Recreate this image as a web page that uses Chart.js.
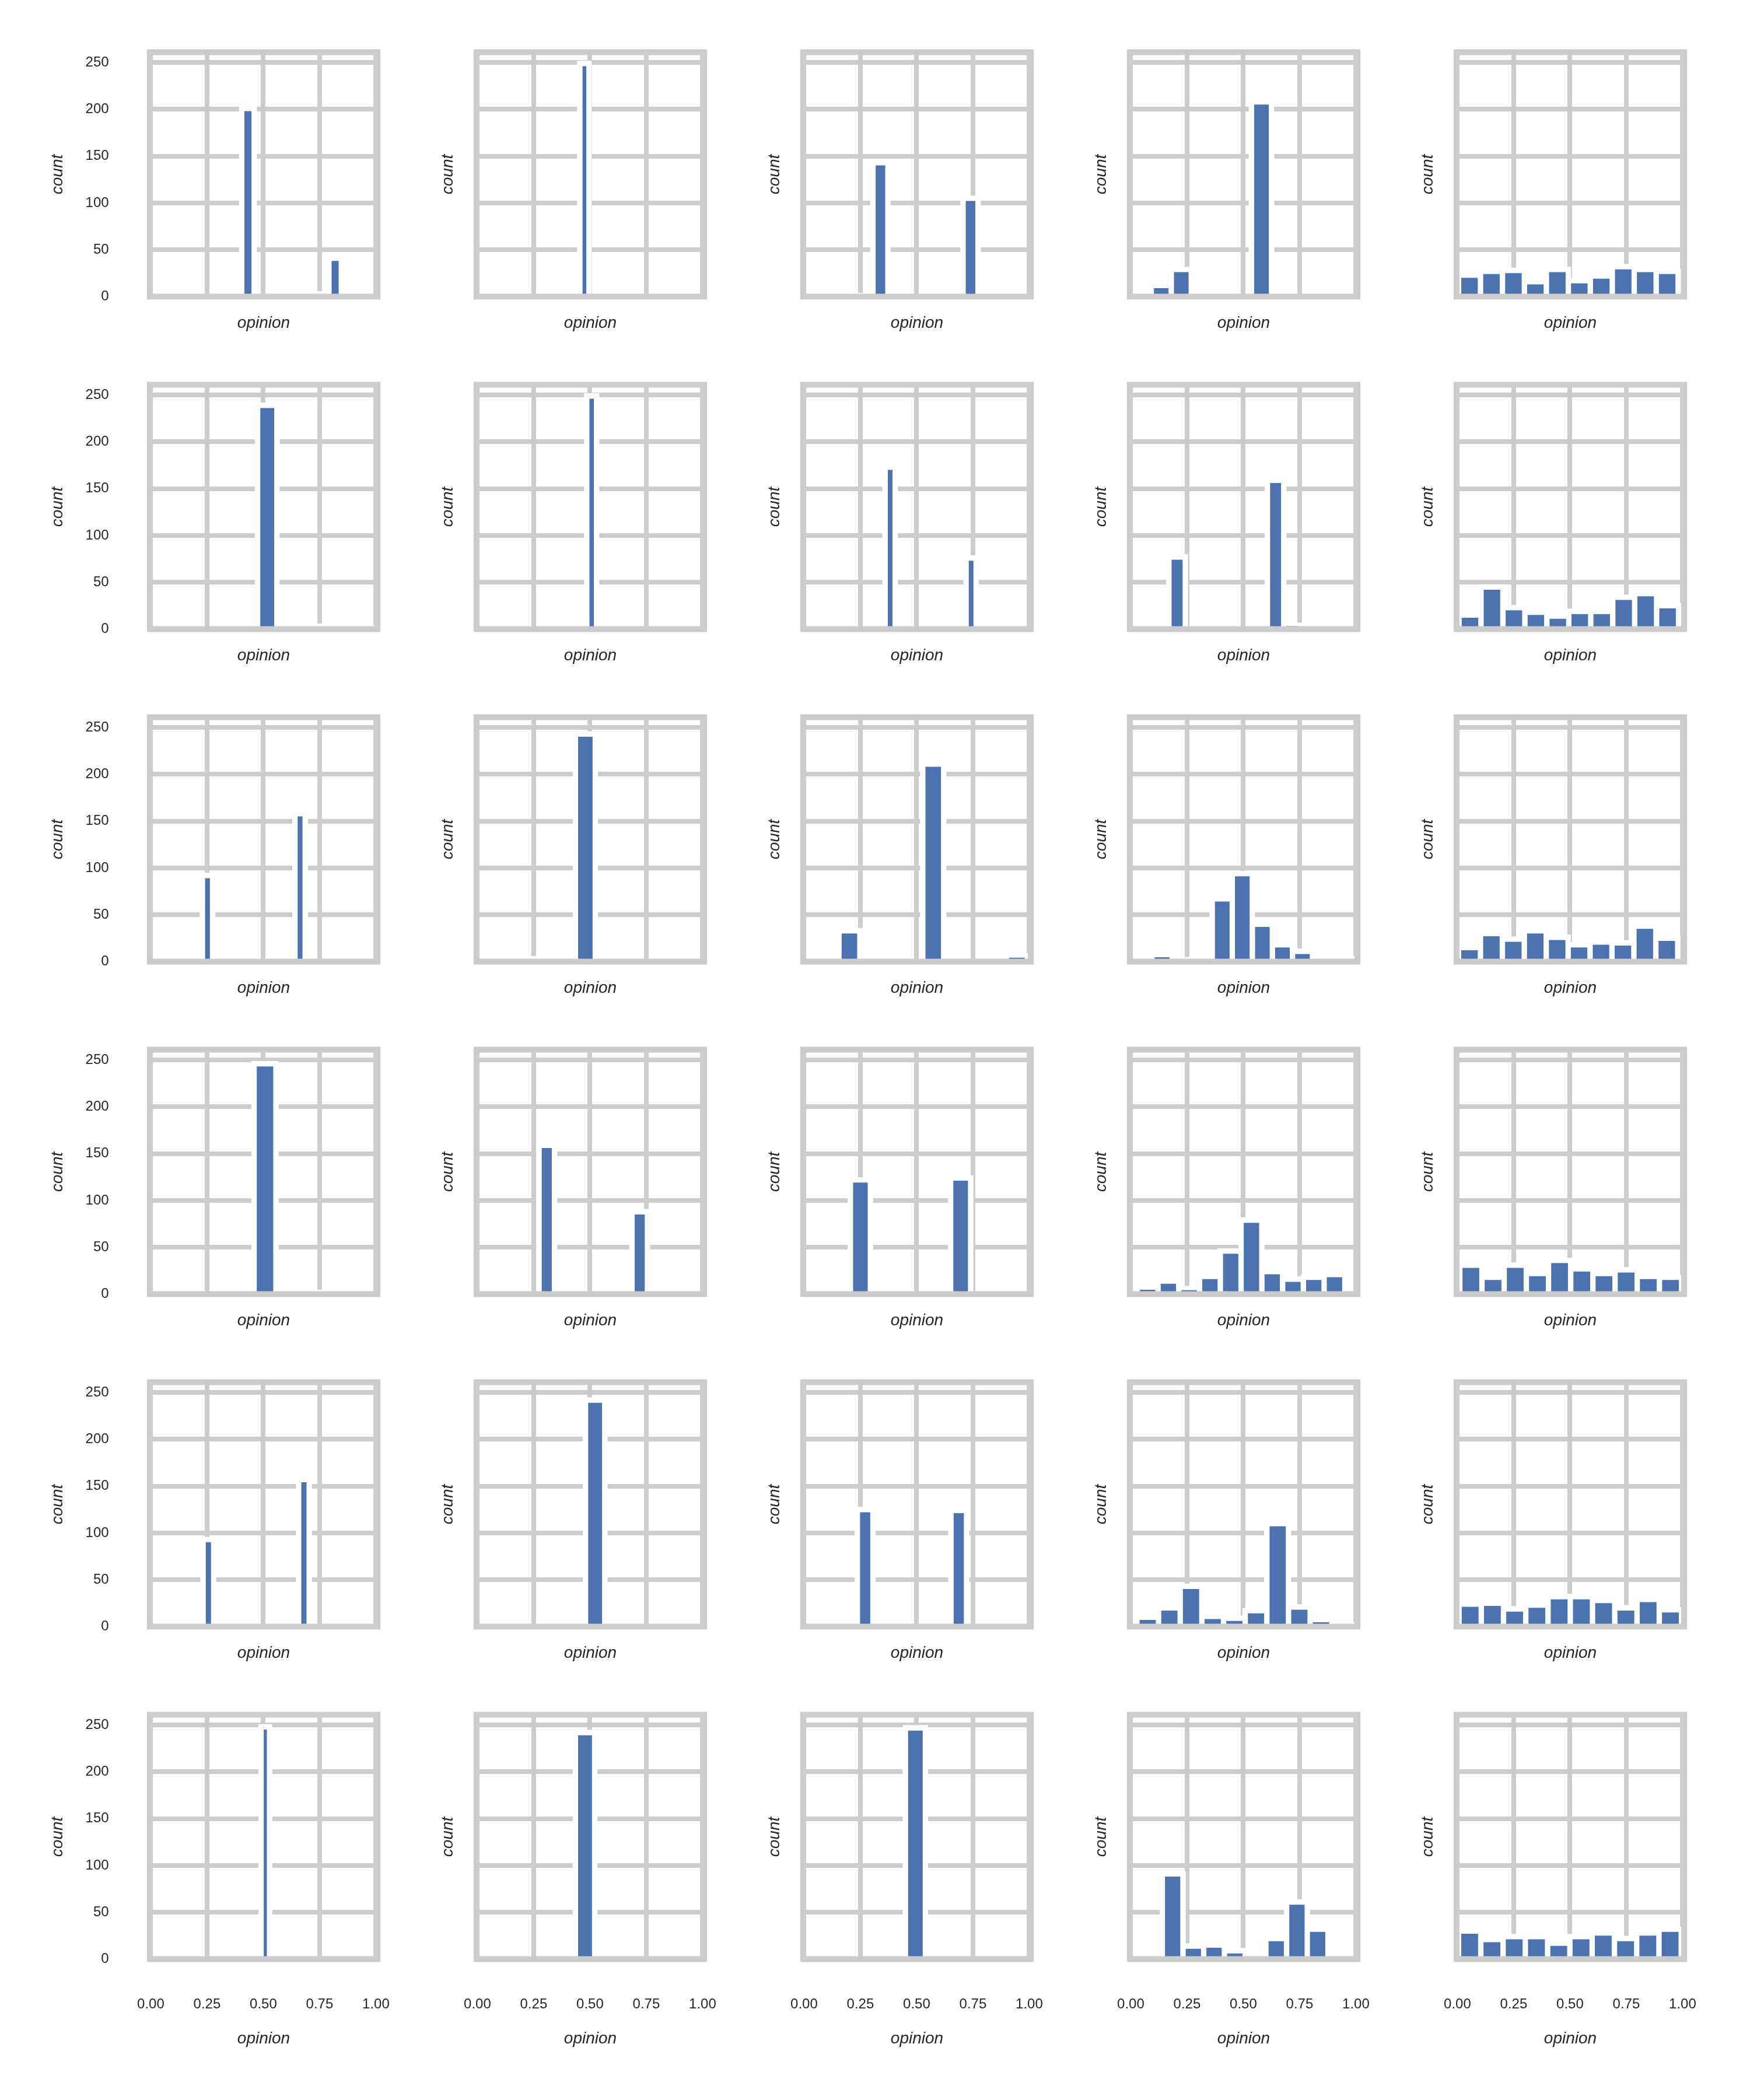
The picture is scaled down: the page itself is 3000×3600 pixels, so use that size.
<!DOCTYPE html>
<html>
<head>
<meta charset="utf-8">
<script src="https://cdn.jsdelivr.net/npm/chart.js@4.4.0/dist/chart.umd.min.js"></script>
<style>
  html, body { margin: 0; padding: 0; background: #ffffff; overflow: hidden; }
  #wrap { position: relative; width: 3000px; height: 3600px; background: #ffffff; overflow: hidden; }
  #wrap canvas { position: absolute; }
</style>
</head>
<body>
<div id="wrap"></div>
<script>
// ---------------- data ----------------
const yTicks = [0, 50, 100, 150, 200, 250];
const xTicks = [0, 0.25, 0.5, 0.75, 1.0];
const xTickLabels = ['0.00', '0.25', '0.50', '0.75', '1.00'];
const xLabel = 'opinion';
const yLabel = 'count';

// histogram bins per panel (row-major, 6 rows x 5 columns): first bin edge, bin width
const binStart = [
  0.4039, 0.4548, 0.2390, 0.0910, 0.0050,
  0.1305, 0.4856, 0.3598, 0.1694, 0.0072,
  0.2293, 0.1693, 0.1548, 0.0946, 0.0050,
  0.4589, 0.2736, 0.2057, 0.0290, 0.0106,
  0.2325, 0.4799, 0.2366, 0.0273, 0.0072,
  0.4898, 0.4351, 0.0056, 0.1401, 0.0050
];
const binWidth = [
  0.05533, 0.0409, 0.0667, 0.08904, 0.09753,
  0.0860, 0.0438, 0.04494, 0.0729, 0.0975,
  0.04568, 0.0886, 0.09305, 0.08909, 0.09735,
  0.0972, 0.0688, 0.08902, 0.0922, 0.0985,
  0.04714, 0.0858, 0.06928, 0.0962, 0.0988,
  0.0381, 0.0858, 0.0889, 0.0920, 0.0989
];

// counts per bin
const r1c1 = [201, 0, 0, 0, 0, 0, 3, 41];
const r1c2 = [249, 0];
const r1c3 = [1, 143, 0, 0, 0, 0, 0, 105, 1];
const r1c4 = [12, 29, 0, 0, 0, 208, 0, 0, 1];
const r1c5 = [23, 27, 28, 16, 29, 17, 22, 32, 29, 27];

const r2c1 = [1, 0, 0, 0, 239, 0, 0, 3, 0, 1];
const r2c2 = [249, 0];
const r2c3 = [173, 0, 0, 0, 0, 0, 0, 0, 76];
const r2c4 = [77, 0, 0, 0, 0, 0, 159, 4, 3];
const r2c5 = [15, 45, 23, 18, 14, 19, 19, 34, 38, 25];

const r3c1 = [92, 0, 0, 0, 0, 0, 0, 0, 0, 158];
const r3c2 = [3, 0, 0, 243, 0, 0];
const r3c3 = [33, 0, 0, 0, 211, 0, 0, 0, 6];
const r3c4 = [7, 2, 0, 67, 94, 40, 18, 11, 0, 3];
const r3c5 = [15, 30, 24, 33, 26, 18, 21, 20, 38, 25];

const r4c1 = [246, 0, 2];
const r4c2 = [159, 0, 0, 0, 0, 0, 88];
const r4c3 = [122, 0, 0, 0, 0, 124];
const r4c4 = [7, 14, 6, 19, 46, 79, 24, 16, 18, 21];
const r4c5 = [31, 18, 31, 22, 36, 27, 22, 26, 19, 18];

const r5c1 = [93, 0, 0, 0, 0, 0, 0, 0, 0, 157];
const r5c2 = [242, 0];
const r5c3 = [125, 0, 0, 0, 0, 0, 124, 0, 0, 1];
const r5c4 = [10, 20, 43, 11, 9, 17, 110, 21, 7, 2];
const r5c5 = [24, 25, 19, 23, 32, 32, 28, 20, 29, 18];

const r6c1 = [248, 0];
const r6c2 = [242, 0];
const r6c3 = [1, 0, 0, 0, 0, 247, 0, 0, 0, 2];
const r6c4 = [91, 14, 15, 9, 3, 22, 61, 32];
const r6c5 = [30, 21, 24, 24, 17, 24, 28, 22, 28, 32];

const panelCounts = [
  r1c1, r1c2, r1c3, r1c4, r1c5,
  r2c1, r2c2, r2c3, r2c4, r2c5,
  r3c1, r3c2, r3c3, r3c4, r3c5,
  r4c1, r4c2, r4c3, r4c4, r4c5,
  r5c1, r5c2, r5c3, r5c4, r5c5,
  r6c1, r6c2, r6c3, r6c4, r6c5
];

// ---------------- style ----------------
const FONT = "'Liberation Sans', Arial, Helvetica, sans-serif";
const TEXT = '#262626';
const GRID = '#cccccc';
const BAR = '#4c72b0';
const EDGE = 4.65;      // half of the white bar edge line
const NROWS = 6, NCOLS = 5;
const COL_PITCH = 560, ROW_PITCH = 570;
const CANVAS_W = 790;
const PLOT_LEFT = 257, PLOT_RIGHT = 647, PLOT_TOP = 89.5, PLOT_BOTTOM = 508.5;

// white halo behind each non-empty bar (edge stroke of the bars)
const haloPlugin = {
  id: 'halo',
  beforeDatasetsDraw(chart) {
    const ctx = chart.ctx, a = chart.chartArea;
    const ds = chart.data.datasets[0];
    const meta = chart.getDatasetMeta(0);
    ctx.save();
    ctx.beginPath();
    ctx.rect(a.left, a.top, a.width, a.height);
    ctx.clip();
    ctx.fillStyle = '#ffffff';
    meta.data.forEach((bar, i) => {
      if (!ds.data[i].y) return;
      const p = bar.getProps(['x', 'y', 'base', 'width'], true);
      ctx.fillRect(p.x - p.width / 2 - EDGE, p.y - EDGE, p.width + 2 * EDGE, (p.base - p.y) + 2 * EDGE);
    });
    ctx.restore();
  }
};

// axes frame (spines) drawn on top
const spinePlugin = {
  id: 'spines',
  afterDatasetsDraw(chart) {
    const ctx = chart.ctx, a = chart.chartArea;
    ctx.save();
    ctx.strokeStyle = GRID;
    ctx.lineWidth = 10;
    ctx.strokeRect(a.left, a.top, a.width, a.height);
    ctx.restore();
  }
};

const wrap = document.getElementById('wrap');

panelCounts.forEach((counts, k) => {
  const r = Math.floor(k / NCOLS), c = k % NCOLS;
  const lastRow = r === NROWS - 1;
  const H = lastRow ? 720 : 600;
  const cv = document.createElement('canvas');
  cv.width = CANVAS_W; cv.height = H;
  cv.style.width = CANVAS_W + 'px'; cv.style.height = H + 'px';
  cv.style.left = (COL_PITCH * c) + 'px';
  cv.style.top = (ROW_PITCH * r) + 'px';
  wrap.appendChild(cv);

  const start = binStart[k], bw = binWidth[k];
  const pts = counts.map((n, i) => ({ x: start + (i + 0.5) * bw, y: n }));

  new Chart(cv, {
    type: 'bar',
    data: {
      datasets: [{
        data: pts,
        backgroundColor: BAR,
        borderColor: '#ffffff',
        borderWidth: { left: EDGE, right: EDGE, top: EDGE, bottom: 0 },
        borderSkipped: false,
        inflateAmount: 0,
        barPercentage: 1,
        categoryPercentage: 1
      }]
    },
    options: {
      responsive: false,
      animation: false,
      devicePixelRatio: 1,
      events: [],
      layout: { padding: { left: 0, right: CANVAS_W - PLOT_RIGHT, top: PLOT_TOP, bottom: 0 } },
      plugins: { legend: { display: false }, tooltip: { enabled: false } },
      scales: {
        x: {
          type: 'linear',
          bounds: 'data',
          min: -0.0036,
          max: 1.0067,
          offset: false,
          afterBuildTicks: s => { s.ticks = xTicks.map(v => ({ value: v })); },
          afterFit: s => { s.height = H - PLOT_BOTTOM; },
          grid: { color: GRID, lineWidth: 8, drawTicks: false, offset: false },
          border: { display: false },
          ticks: {
            display: lastRow,
            autoSkip: false,
            maxRotation: 0,
            padding: 65.5,
            color: TEXT,
            font: { family: FONT, size: 24, lineHeight: 1 },
            callback: (v, i) => xTickLabels[i]
          },
          title: {
            display: true,
            text: xLabel,
            color: TEXT,
            font: { family: FONT, size: 28, style: 'italic', lineHeight: 1 },
            padding: { top: 0, bottom: lastRow ? 61 : 31.7 }
          }
        },
        y: {
          type: 'linear',
          min: 0,
          max: 261,
          afterBuildTicks: s => { s.ticks = yTicks.map(v => ({ value: v })); },
          afterFit: s => { s.width = PLOT_LEFT; },
          grid: { color: GRID, lineWidth: 8, drawTicks: false },
          border: { display: false },
          ticks: {
            display: c === 0,
            padding: 70.4,
            color: TEXT,
            font: { family: FONT, size: 24, lineHeight: 1 },
            callback: (v) => String(v)
          },
          title: {
            display: true,
            text: yLabel,
            color: TEXT,
            font: { family: FONT, size: 28, style: 'italic', lineHeight: 1 },
            padding: { top: c === 0 ? 84.8 : 194.7, bottom: 0 }
          }
        }
      }
    },
    plugins: [haloPlugin, spinePlugin]
  });
});
</script>
</body>
</html>
